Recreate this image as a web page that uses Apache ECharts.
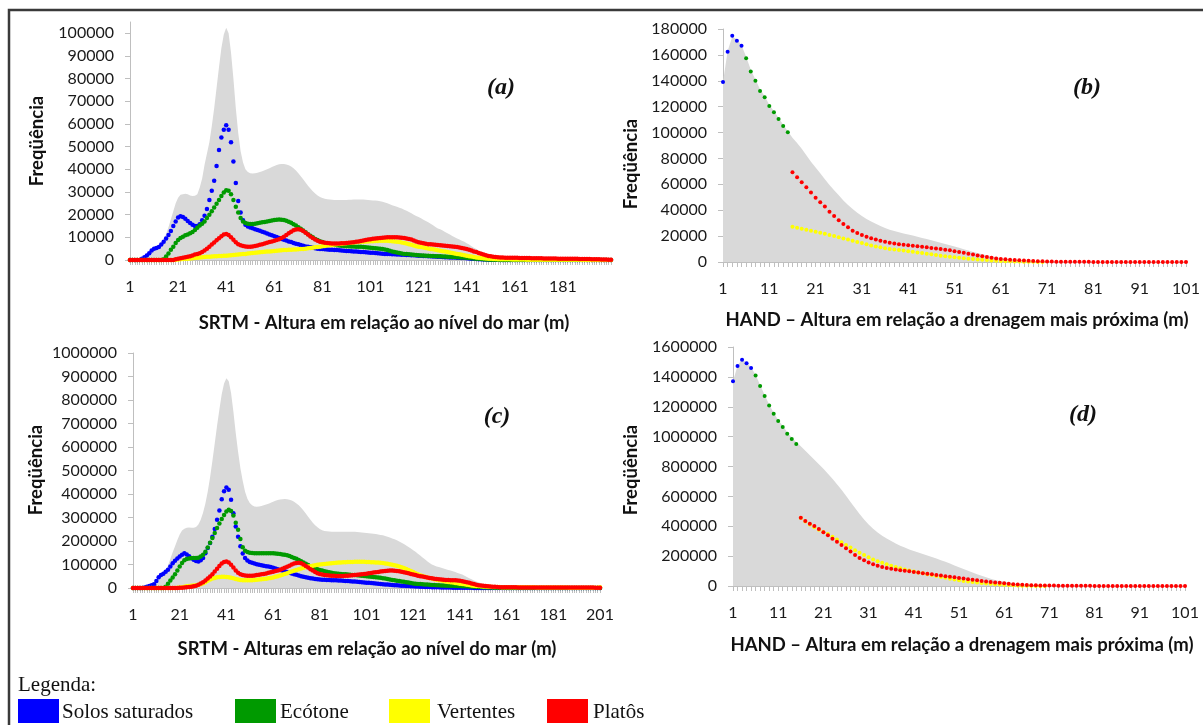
<!DOCTYPE html>
<html>
<head>
<meta charset="utf-8">
<title>Freqüência - SRTM e HAND</title>
<script src="https://cdn.jsdelivr.net/npm/echarts@6/dist/echarts.min.js"></script>
<style>
html, body { margin: 0; padding: 0; background: #fff; }
#chart { width: 1203px; height: 725px; }
</style>
</head>
<body>
<div id="chart"></div>
<script>
// categorias (alturas em m)
const catsSrtm = []
for (let i = 1; i <= 201; i++) catsSrtm.push(String(i))
const catsHand = []
for (let i = 1; i <= 101; i++) catsHand.push(String(i))

// (a) SRTM - frequencias
const srtmTotalA = [
  0, 0, 0, 0, 0, 500, 1200, 2000, 3000, 4200,
  5000, 5400, 6000, 7500, 9000, 11500, 14500, 18000, 21500, 25000,
  27500, 28800, 29000, 29200, 29000, 28500, 28200, 28300, 29000, 32000,
  36000, 42000, 47000, 52000, 59000, 67000, 76000, 85000, 93500, 99500,
  102500, 100000, 91500, 80000, 67000, 56000, 48000, 43000, 40000, 38800,
  38300, 38200, 38300, 38500, 38800, 39200, 39600, 40000, 40500, 41000,
  41500, 41900, 42200, 42300, 42300, 42100, 41800, 41300, 40500, 39500,
  38300, 37000, 35600, 34200, 32800, 31500, 30300, 29300, 28500, 27800,
  27300, 27000, 26800, 26700, 26600, 26500, 26500, 26500, 26500, 26500,
  26500, 26600, 26600, 26700, 26700, 26700, 26700, 26700, 26600, 26500,
  26400, 26300, 26200, 26100, 25900, 25700, 25400, 25000, 24600, 24200,
  23800, 23500, 23100, 22700, 22200, 21700, 21200, 20600, 20000, 19400,
  19000, 18400, 17800, 17200, 16600, 16000, 15300, 14600, 13900, 13600,
  13000, 12400, 11800, 11200, 10600, 10000, 9500, 9000, 8500, 8000,
  7400, 6800, 6100, 5400, 4800, 4200, 3700, 3200, 2800, 2400,
  2100, 1800, 1600, 1500, 1400, 1300, 1250, 1200, 1150, 1150,
  1200, 1150, 1100, 1100, 1050, 1000, 1000, 950, 950, 950,
  900, 900, 850, 850, 800, 750, 750, 750, 700, 700,
  700, 650, 650, 650, 600, 600, 550, 550, 500, 450,
  450, 450, 400, 400, 350, 350, 300, 300, 250, 200, 150
]
const srtmBlueA = [
  0, 0, 0, 0, 0, 500, 1200, 2000, 3000, 4200,
  5000, 5300, 5700, 6800, 8000, 9500, 11000, 12800, 15000, 17000,
  18700, 19300, 19000, 18200, 17200, 16300, 15500, 15000, 15000, 15800,
  17500, 19500, 22500, 26500, 30500, 35000, 41500, 48500, 54000, 57500,
  59500, 57500, 52000, 43500, 34000, 26000, 21000, 17500, 15500, 14800,
  14300, 14000, 13600, 13200, 12900, 12500, 12100, 11700, 11300, 10900,
  10500, 10100, 9700, 9300, 8900, 8600, 8200, 7900, 7500, 7200,
  6900, 6600, 6300, 6000, 5800, 5600, 5400, 5200, 5000, 4900,
  4800, 4700, 4600, 4550, 4500, 4450, 4400, 4300, 4200, 4100,
  4000, 3950, 3850, 3800, 3700, 3650, 3550, 3500, 3400, 3300,
  3200, 3150, 3050, 2950, 2900, 2800, 2700, 2650, 2600, 2550,
  2500, 2450, 2400, 2350, 2300, 2250, 2200, 2100, 2050, 2000,
  1900, 1850, 1800, 1750, 1700, 1600, 1550, 1500, 1450, 1400,
  1300, 1250, 1200, 1150, 1100, 1050, 1000, 950, 900, 850,
  800, 700, 600, 500, 400, 350, 300, 250, 200, 150,
  90, 80, 70, 60, 50, 40, 40, 30, 30, 20,
  20, 20, 10, 10, 10, 10, 0, 0, 0, 0,
  0, 0, 0, 0, 0, 0, 0, 0, 0, 0,
  0, 0, 0, 0, 0, 0, 0, 0, 0, 0,
  0, 0, 0, 0, 0, 0, 0, 0, 0, 0, 0
]
const srtmGreenA = [
  0, 0, 0, 0, 0, 0, 0, 0, 0, 0,
  0, 0, 0, 0, 300, 1500, 2900, 4500, 5900, 7500,
  8800, 9700, 10300, 10900, 11300, 11800, 12400, 13200, 14200, 15200,
  16000, 17000, 18500, 20000, 21500, 23200, 24800, 26500, 28200, 29800,
  30800, 30500, 29000, 26500, 23500, 21000, 18500, 17000, 16300, 16000,
  15900, 15900, 16000, 16200, 16400, 16600, 16800, 17000, 17200, 17400,
  17600, 17800, 17900, 17800, 17600, 17300, 16900, 16400, 15800, 15200,
  14500, 13800, 13000, 12200, 11400, 10700, 10000, 9300, 8800, 8300,
  7900, 7500, 7200, 6900, 6700, 6600, 6500, 6400, 6300, 6200,
  6100, 6050, 6000, 5950, 5900, 5850, 5800, 5700, 5600, 5500,
  5400, 5300, 5200, 5100, 5000, 4800, 4600, 4400, 4100, 3800,
  3500, 3300, 3100, 2900, 2700, 2600, 2500, 2400, 2300, 2200,
  2100, 2000, 1950, 1900, 1850, 1800, 1750, 1700, 1650, 1600,
  1550, 1500, 1450, 1400, 1350, 1300, 1250, 1200, 1150, 1100,
  1000, 900, 800, 700, 600, 500, 400, 300, 250, 200,
  150, 100, 80, 60, 50, 40, 30, 20, 10, 10,
  0, 0, 0, 0, 0, 0, 0, 0, 0, 0,
  0, 0, 0, 0, 0, 0, 0, 0, 0, 0,
  0, 0, 0, 0, 0, 0, 0, 0, 0, 0,
  0, 0, 0, 0, 0, 0, 0, 0, 0, 0, 0
]
const srtmYellowA = [
  0, 0, 0, 0, 0, 0, 0, 0, 0, 0,
  0, 0, 0, 0, 0, 0, 0, 0, 0, 100,
  200, 300, 400, 500, 600, 700, 800, 900, 1000, 1100,
  1200, 1300, 1400, 1450, 1500, 1600, 1700, 1750, 1800, 1850,
  1900, 2000, 2100, 2200, 2300, 2400, 2500, 2600, 2700, 2850,
  3000, 3100, 3200, 3300, 3400, 3500, 3600, 3700, 3800, 3900,
  4000, 4100, 4200, 4300, 4400, 4450, 4500, 4550, 4600, 4650,
  4700, 4800, 4900, 5000, 5150, 5300, 5450, 5600, 5750, 5900,
  6050, 6200, 6350, 6500, 6650, 6800, 6950, 7100, 7200, 7300,
  7400, 7500, 7600, 7700, 7800, 7900, 8000, 8100, 8150, 8200,
  8250, 8300, 8350, 8400, 8450, 8500, 8500, 8450, 8400, 8300,
  8200, 8100, 7900, 7700, 7500, 7300, 7000, 6700, 6400, 6100,
  5900, 5700, 5500, 5300, 5100, 4900, 4700, 4500, 4300, 4100,
  3900, 3700, 3500, 3300, 3100, 2900, 2700, 2500, 2300, 2100,
  1900, 1700, 1500, 1300, 1150, 1000, 900, 800, 700, 600,
  500, 450, 400, 380, 360, 340, 320, 300, 280, 240,
  220, 200, 200, 180, 180, 160, 160, 150, 150, 140,
  140, 130, 130, 120, 120, 110, 110, 100, 100, 100,
  90, 90, 80, 80, 70, 70, 60, 60, 50, 50,
  40, 40, 30, 30, 20, 20, 10, 10, 0, 0, 0
]
const srtmRedA = [
  0, 0, 0, 0, 0, 0, 0, 0, 0, 0,
  0, 0, 0, 0, 0, 0, 0, 0, 0, 300,
  500, 800, 1000, 1200, 1400, 1600, 2000, 2400, 2700, 3000,
  3500, 4200, 5000, 5900, 6800, 7700, 8700, 9600, 10500, 11200,
  11500, 11000, 10000, 8900, 7800, 7000, 6500, 6200, 6000, 5900,
  5900, 6000, 6200, 6400, 6700, 7000, 7300, 7600, 7900, 8200,
  8500, 8800, 9200, 9700, 10300, 11000, 11800, 12500, 13100, 13500,
  13600, 13400, 12800, 12000, 11200, 10400, 9700, 9000, 8500, 8100,
  7800, 7600, 7500, 7400, 7300, 7300, 7300, 7300, 7400, 7400,
  7500, 7600, 7700, 7800, 8000, 8200, 8400, 8600, 8800, 9000,
  9200, 9400, 9500, 9600, 9700, 9800, 9900, 10000, 10000, 10000,
  10000, 10000, 9900, 9800, 9700, 9500, 9300, 9000, 8600, 8200,
  7800, 7600, 7400, 7200, 7000, 6900, 6800, 6700, 6600, 6500,
  6400, 6300, 6200, 6100, 6000, 5900, 5700, 5500, 5300, 5100,
  4800, 4500, 4200, 3800, 3500, 3100, 2800, 2400, 2100, 1800,
  1600, 1400, 1300, 1200, 1100, 1100, 1000, 1000, 1000, 950,
  950, 950, 900, 900, 900, 850, 850, 800, 800, 800,
  750, 750, 700, 700, 700, 650, 650, 650, 600, 600,
  600, 550, 550, 550, 500, 500, 500, 450, 450, 400,
  400, 400, 350, 350, 300, 300, 250, 250, 200, 150, 100
]

// (c) SRTM - frequencias
const srtmTotalC = [
  0, 0, 0, 0, 0, 2000, 5000, 9000, 12000, 16000,
  30000, 46000, 55000, 62000, 75000, 96000, 125000, 152000, 178000, 204000,
  228000, 245000, 252000, 256000, 257000, 256000, 256000, 260000, 270000, 290000,
  320000, 360000, 410000, 470000, 540000, 615000, 690000, 760000, 825000, 870000,
  893000, 880000, 830000, 750000, 660000, 580000, 510000, 455000, 410000, 380000,
  362000, 352000, 347000, 346000, 347000, 349000, 352000, 355000, 359000, 363000,
  367000, 371000, 374000, 377000, 378000, 379000, 378000, 376000, 372000, 367000,
  360000, 352000, 342000, 330000, 317000, 303000, 290000, 278000, 267000, 258000,
  251000, 246000, 243000, 241000, 240000, 239000, 239000, 239000, 239000, 239000,
  239000, 239000, 239000, 239000, 239000, 239000, 238000, 237000, 236000, 235000,
  234000, 233000, 232000, 231000, 230000, 228000, 226000, 224000, 221000, 218000,
  215000, 211000, 207000, 203000, 198000, 193000, 187000, 181000, 175000, 168000,
  161000, 154000, 146000, 138000, 130000, 122000, 114000, 106000, 100000, 96000,
  92000, 89000, 86000, 83000, 80000, 77000, 74000, 71000, 68000, 64000,
  61000, 57000, 52000, 47000, 42000, 37000, 32000, 28000, 24000, 20000,
  17000, 15000, 13500, 12000, 11000, 10000, 9000, 8200, 7600, 7000,
  6600, 6400, 6200, 6100, 6000, 5900, 5800, 5700, 5600, 5500,
  5300, 5200, 5100, 5000, 4800, 4700, 4600, 4400, 4300, 4200,
  4100, 4000, 3900, 3800, 3700, 3600, 3500, 3400, 3400, 3200,
  3200, 3200, 3100, 3100, 3100, 3000, 3000, 3000, 2900, 3000, 4500
]
const srtmBlueC = [
  0, 0, 0, 0, 0, 2000, 5000, 9000, 12000, 16000,
  30000, 46000, 55000, 61000, 69000, 78000, 92000, 105000, 116000, 126000,
  134000, 142000, 148000, 143000, 135000, 127000, 120000, 115000, 113000, 118000,
  128000, 148000, 170000, 192000, 218000, 251000, 290000, 330000, 378000, 412000,
  428000, 418000, 376000, 318000, 262000, 218000, 178000, 147000, 128000, 117000,
  111000, 107000, 104000, 101000, 99000, 97000, 95000, 93000, 91000, 89000,
  86000, 83000, 80000, 77000, 74000, 71000, 68000, 65000, 62000, 59000,
  56000, 53000, 50000, 48000, 46000, 44000, 42000, 40000, 38000, 37000,
  36000, 35500, 35000, 34500, 34000, 33500, 33000, 32500, 32000, 31500,
  31000, 30300, 29600, 28900, 28000, 27200, 26400, 25500, 24600, 23700,
  22800, 21900, 21000, 20000, 19000, 18000, 17000, 16000, 15200, 14400,
  13600, 12900, 12200, 11500, 10800, 10000, 9400, 8800, 8200, 7600,
  7000, 6500, 6000, 5500, 5100, 4700, 4300, 3900, 3600, 3300,
  3000, 2700, 2400, 2200, 2000, 1800, 1600, 1400, 1300, 1200,
  1100, 1000, 900, 800, 700, 600, 500, 400, 400, 300,
  300, 250, 250, 200, 200, 150, 150, 100, 100, 100,
  0, 0, 0, 0, 0, 0, 0, 0, 0, 0,
  0, 0, 0, 0, 0, 0, 0, 0, 0, 0,
  0, 0, 0, 0, 0, 0, 0, 0, 0, 0,
  0, 0, 0, 0, 0, 0, 0, 0, 0, 0, 0
]
const srtmGreenC = [
  0, 0, 0, 0, 0, 0, 0, 0, 0, 0,
  0, 0, 0, 0, 5000, 18000, 32000, 45000, 58000, 75000,
  92000, 106000, 118000, 123000, 126000, 128000, 128000, 128000, 129000, 134000,
  142000, 154000, 172000, 193000, 213000, 234000, 255000, 275000, 294000, 311000,
  326000, 333000, 328000, 308000, 278000, 248000, 208000, 173000, 158000, 153000,
  150000, 149000, 148000, 148000, 148000, 148000, 148000, 148000, 148000, 148000,
  148000, 147000, 146000, 145000, 143000, 141000, 139000, 136000, 132000, 128000,
  124000, 119000, 114000, 108000, 103000, 98000, 93000, 88000, 84000, 80000,
  77000, 74000, 71000, 69000, 67000, 65000, 63000, 62000, 61000, 60000,
  59000, 58000, 57000, 56000, 55500, 55000, 54000, 53000, 52000, 51000,
  50000, 49000, 48000, 47000, 46000, 45000, 43500, 42000, 40000, 38000,
  36000, 34000, 32500, 31000, 29500, 28000, 26500, 25000, 23000, 21000,
  19500, 18500, 17500, 16800, 16000, 15300, 14600, 13900, 13200, 12600,
  12000, 11500, 11000, 10500, 10000, 9700, 9400, 9100, 8800, 8500,
  8200, 7800, 7400, 7000, 6500, 6000, 5500, 5000, 4500, 4000,
  3500, 3000, 2600, 2200, 1800, 1500, 1200, 1000, 800, 600,
  500, 400, 300, 300, 200, 200, 200, 100, 100, 100,
  0, 0, 0, 0, 0, 0, 0, 0, 0, 0,
  0, 0, 0, 0, 0, 0, 0, 0, 0, 0,
  0, 0, 0, 0, 0, 0, 0, 0, 0, 0, 0
]
const srtmYellowC = [
  0, 0, 0, 0, 0, 0, 0, 0, 0, 0,
  0, 0, 0, 0, 0, 0, 0, 0, 0, 1000,
  2000, 3500, 5000, 7000, 8500, 10000, 11000, 12000, 13500, 16000,
  20000, 25000, 31000, 36000, 40000, 43000, 45500, 47000, 47500, 47500,
  47000, 45500, 43500, 41000, 38500, 36000, 34500, 33500, 33000, 33000,
  33000, 33500, 34000, 35000, 36000, 37000, 38000, 39500, 41000, 43000,
  45000, 47500, 50000, 53000, 56000, 59500, 63000, 66500, 70000, 73500,
  77000, 80000, 83000, 86000, 89000, 91000, 93000, 95000, 97000, 99000,
  100000, 101500, 102500, 103500, 104500, 105500, 106500, 107500, 108500, 109000,
  109500, 110000, 110500, 111000, 111000, 111500, 111500, 111500, 111500, 111500,
  111000, 110500, 110000, 109500, 109000, 108000, 107000, 106000, 104500, 103000,
  101000, 99000, 97000, 94500, 91500, 88500, 85000, 81000, 77000, 72500,
  68000, 63000, 58500, 54500, 51000, 48000, 45000, 42500, 40000, 37500,
  35500, 33500, 31500, 29500, 27500, 26000, 24500, 23000, 21500, 20000,
  18500, 17000, 15500, 14000, 12500, 11000, 10000, 9000, 8000, 7000,
  6500, 6000, 5500, 5000, 4600, 4300, 4000, 3800, 3600, 3500,
  3400, 3300, 3200, 3100, 3000, 3000, 2900, 2900, 2800, 2800,
  2800, 2700, 2700, 2600, 2500, 2400, 2300, 2200, 2100, 2000,
  2000, 1900, 1800, 1800, 1700, 1600, 1600, 1500, 1500, 1400,
  1400, 1400, 1400, 1400, 1400, 1400, 1400, 1400, 1400, 1500, 3000
]
const srtmRedC = [
  0, 0, 0, 0, 0, 0, 0, 0, 0, 0,
  0, 0, 0, 0, 0, 0, 0, 0, 0, 500,
  1000, 1500, 2200, 3000, 4000, 5500, 7500, 10000, 14000, 19000,
  25000, 32000, 40000, 49000, 59000, 70000, 82000, 94000, 104000, 111000,
  113000, 108000, 99000, 87000, 74000, 65000, 59000, 55000, 53000, 52000,
  52000, 52500, 53500, 55000, 56500, 58000, 60000, 62000, 64500, 67000,
  69500, 72000, 75000, 78000, 82000, 86000, 90000, 95000, 100000, 104000,
  106000, 107000, 105000, 100000, 94000, 87000, 80000, 74000, 68000, 63000,
  60000, 57500, 55500, 54000, 53000, 52500, 52000, 51500, 51500, 51500,
  51500, 52000, 52500, 53000, 54000, 55000, 56000, 57000, 58000, 59500,
  61000, 62500, 64000, 65500, 67000, 68500, 70000, 71500, 72500, 73500,
  74000, 74000, 73500, 72500, 71000, 69000, 67000, 65000, 62500, 60000,
  57500, 55000, 52500, 50500, 48500, 46500, 44500, 42500, 41000, 39500,
  38000, 37000, 36000, 35000, 34500, 34000, 33500, 33000, 32500, 32000,
  31000, 29000, 27000, 24500, 22000, 19000, 16500, 14000, 12000, 10500,
  9500, 8500, 7500, 6500, 5700, 5000, 4300, 3700, 3200, 2800,
  2800, 2800, 2700, 2700, 2700, 2600, 2600, 2600, 2500, 2500,
  2500, 2400, 2400, 2400, 2300, 2300, 2300, 2200, 2200, 2200,
  2100, 2100, 2100, 2000, 2000, 2000, 1900, 1900, 1900, 1800,
  1800, 1800, 1700, 1700, 1700, 1600, 1600, 1600, 1500, 1500, 1500
]

// (b) HAND - frequencias
const handTotalB = [
  139000, 163000, 174000, 172000, 167500, 158500, 148500, 141000, 133500, 128000,
  121500, 116500, 111500, 106000, 101000, 96000, 92000, 87500, 82500, 77500,
  73000, 68500, 64000, 59500, 55500, 51500, 47500, 44000, 41000, 38000,
  35500, 33300, 31300, 29500, 27800, 26300, 25000, 23900, 23000, 22100,
  21300, 20400, 19500, 18600, 17700, 16800, 15900, 14900, 13900, 13000,
  12000, 11000, 9900, 8800, 7800, 6900, 6000, 5200, 4400, 3700,
  3100, 2600, 2100, 1700, 1400, 1100, 900, 700, 600, 500,
  400, 350, 300, 250, 200, 200, 150, 150, 100, 100,
  100, 50, 50, 50, 50, 0, 0, 0, 0, 0,
  0, 0, 0, 0, 0, 0, 0, 0, 0, 0,
  0
]
const handBlueB = [139000, 162500, 174700, 171000, 167000]
const handGreenB = [
  null, null, null, null, null,
  157400, 147100, 140100, 132100, 127300, 120600, 115700, 110500, 105100, 100200
]
const handYellowB = [
  null, null, null, null, null, null, null, null, null, null,
  null, null, null, null, null, 27300, 26500, 25700, 24900, 24100,
  23400, 22600, 21800, 20900, 20000, 19100, 18200, 17300, 16400, 15500,
  14600, 13700, 12800, 12000, 11300, 10700, 10100, 9600, 9200, 8800,
  8400, 7900, 7400, 6900, 6400, 5900, 5400, 4900, 4400, 4000,
  3600, 3200, 2900, 2600, 2300, 2000, 1700, 1500, 1200, 1000,
  800, 600, 500, 400, 300, 200, 150, 100, 80, 50
]
const handRedB = [
  null, null, null, null, null, null, null, null, null, null,
  null, null, null, null, null, 69300, 65400, 61600, 57700, 53600,
  49700, 46100, 42800, 38900, 35600, 32200, 29400, 26800, 24200, 22400,
  20800, 19500, 18300, 17300, 16400, 15600, 14900, 14300, 13800, 13300,
  12900, 12500, 12100, 11700, 11300, 10900, 10500, 10000, 9500, 9000,
  8400, 7800, 7100, 6400, 5700, 5000, 4400, 3800, 3300, 2800,
  2400, 2100, 1800, 1500, 1300, 1100, 900, 700, 600, 500,
  400, 300, 250, 200, 200, 150, 150, 100, 100, 100,
  50, 50, 50, 50, 0, 0, 0, 0, 0, 0,
  0, 0, 0, 0, 0, 0, 0, 0, 0, 0,
  0
]

// (d) HAND - frequencias
const handTotalD = [
  1370000, 1475000, 1518000, 1497000, 1462000, 1415000, 1345000, 1278000, 1215000, 1160000,
  1112000, 1072000, 1030000, 994000, 962000, 935000, 905000, 875000, 845000, 815000,
  785000, 752000, 718000, 682000, 644000, 604000, 563000, 522000, 482000, 445000,
  412000, 383000, 358000, 337000, 318000, 301000, 285000, 270000, 257000, 245000,
  234000, 224000, 214000, 204000, 194000, 184000, 173000, 162000, 150000, 138000,
  126000, 114000, 102000, 90000, 79000, 68000, 58000, 49000, 41000, 34000,
  28000, 23000, 19000, 15500, 12500, 10000, 8000, 6500, 5500, 4500,
  4000, 3600, 3200, 2800, 2500, 2200, 2000, 1800, 1600, 1400,
  1200, 1000, 900, 800, 700, 600, 500, 400, 300, 200,
  100, 100, 100, 0, 0, 0, 0, 0, 0, 0,
  0
]
const handBlueD = [1370000, 1472000, 1515000, 1492000, 1459000]
const handGreenD = [
  null, null, null, null, null,
  1410000, 1339000, 1272000, 1209000, 1153000, 1104000, 1064000, 1020000, 984000, 950000
]
const handYellowD = [
  null, null, null, null, null, null, null, null, null, null,
  null, null, null, null, null, 455000, 432000, 412000, 393000, 376000,
  361000, 348000, 329000, 311000, 293000, 275000, 257000, 240000, 223000, 207000,
  192000, 178000, 166000, 155000, 145000, 136000, 127000, 119000, 111000, 104000,
  97000, 91000, 85000, 79000, 73000, 67000, 61000, 55000, 49000, 44000,
  39000, 34000, 30000, 26500, 23000, 20000, 17000, 14500, 12000, 10000,
  8000, 6500, 5000, 3500, 2500, 1800, 1200, 800, 500, 300
]
const handRedD = [
  null, null, null, null, null, null, null, null, null, null,
  null, null, null, null, null, 457000, 435000, 417000, 402000, 381000,
  360000, 339000, 317000, 297000, 274000, 252000, 231000, 208000, 188000, 172000,
  158000, 146000, 136000, 128000, 121000, 115000, 110000, 106000, 102000, 98000,
  94000, 90000, 86000, 82000, 78000, 74000, 70000, 66000, 62000, 58000,
  54000, 50000, 46000, 42000, 38000, 34000, 30000, 27000, 24000, 21000,
  18000, 15000, 12500, 10000, 8000, 6500, 5500, 4500, 4000, 3500,
  3000, 2700, 2400, 2100, 1800, 1600, 1400, 1200, 1000, 900,
  800, 700, 600, 500, 400, 300, 200, 100, 100, 0,
  0, 0, 0, 0, 0, 0, 0, 0, 0, 0,
  0
]

const classNames = ['Solos saturados', 'Ecótone', 'Vertentes', 'Platôs']
const classColors = ['#0000ff', '#009a00', '#ffff00', '#ff0000']

const labelFont = { fontFamily: 'Lato', fontSize: 16, color: '#1a1a1a' }

function xAx (gi, cats, step, hideLast) {
  return {
    type: 'category',
    gridIndex: gi,
    data: cats,
    boundaryGap: false,
    axisLine: { lineStyle: { color: '#bfbfbf', width: 1 } },
    axisTick: { show: true, interval: 0, length: 5, lineStyle: { color: '#bfbfbf' } },
    axisLabel: Object.assign({
      margin: 19,
      interval: function (i) {
        return i % step === 0 && !(hideLast && i === cats.length - 1)
      }
    }, labelFont),
    splitLine: { show: false }
  }
}

function yAx (gi, max, interval) {
  return {
    type: 'value',
    gridIndex: gi,
    min: 0,
    max: max,
    interval: interval,
    axisLine: { show: true, lineStyle: { color: '#bfbfbf', width: 1 } },
    axisTick: { show: true, length: 5, lineStyle: { color: '#bfbfbf' } },
    axisLabel: Object.assign({
      margin: 16,
      showMaxLabel: max % interval === 0,
      formatter: function (v) { return String(v) }
    }, labelFont),
    splitLine: { show: false }
  }
}

// area cinza (total)
function area (data, gi) {
  return {
    type: 'line', xAxisIndex: gi, yAxisIndex: gi, data: data,
    symbol: 'none', showSymbol: false,
    lineStyle: { opacity: 0 },
    areaStyle: { color: '#d9d9d9', opacity: 1 },
    silent: true
  }
}

// pontos de cada classe
function dots (k, data, gi, size) {
  return {
    name: classNames[k], type: 'line', xAxisIndex: gi, yAxisIndex: gi, data: data,
    symbol: 'circle', symbolSize: size, showAllSymbol: true,
    lineStyle: { opacity: 0 },
    itemStyle: { color: classColors[k] },
    clip: false,
    silent: true
  }
}

function txt (x, y, text, font, rot, align) {
  return {
    type: 'text', x: x, y: y, rotation: rot || 0,
    style: {
      text: text, font: font, fill: '#111',
      align: align || 'center', verticalAlign: 'middle',
      textAlign: align || 'center', textVerticalAlign: 'middle'
    }
  }
}

const titleFont = 'bold 18.5px Lato'
const panelFont = 'italic bold 24px "Liberation Serif"'
const legendFont = '21px "Liberation Serif"'

const graphics = [
  { type: 'rect', shape: { x: 9, y: 10, width: 1220, height: 740 },
    style: { fill: 'none', stroke: '#3a3a3a', lineWidth: 2.5 }, silent: true },
  txt(384, 323, 'SRTM - Altura em relação ao nível do mar (m)', titleFont),
  txt(957, 320, 'HAND – Altura em relação a drenagem mais próxima (m)', titleFont),
  txt(367, 649, 'SRTM - Alturas em relação ao nível do mar (m)', titleFont),
  txt(962, 645, 'HAND – Altura em relação a drenagem mais próxima (m)', titleFont),
  txt(37, 141, 'Freqüência', titleFont, Math.PI / 2),
  txt(631, 164, 'Freqüência', titleFont, Math.PI / 2),
  txt(36, 470, 'Freqüência', titleFont, Math.PI / 2),
  txt(631, 470, 'Freqüência', titleFont, Math.PI / 2),
  txt(501, 88, '(a)', panelFont),
  txt(1087, 88, '(b)', panelFont),
  txt(497, 417, '(c)', panelFont),
  txt(1083, 415, '(d)', panelFont),
  txt(18, 685, 'Legenda:', legendFont, 0, 'left')
]
const legendBoxX = [18, 235, 389, 547]
const legendTextX = [62, 280, 437, 593]
for (let k = 0; k < 4; k++) {
  graphics.push({ type: 'rect', shape: { x: legendBoxX[k], y: 699, width: 41, height: 24 },
    style: { fill: classColors[k] }, silent: true })
  graphics.push(txt(legendTextX[k], 712, classNames[k], legendFont, 0, 'left'))
}

const myChart = echarts.init(document.getElementById('chart'))
const option = {
  animation: false,
  backgroundColor: '#fff',
  grid: [
    { left: 130, top: 22, width: 481, height: 238, outerBoundsMode: 'none' },
    { left: 723, top: 29, width: 463, height: 233, outerBoundsMode: 'none' },
    { left: 133, top: 353, width: 467, height: 235, outerBoundsMode: 'none' },
    { left: 733, top: 347, width: 452, height: 239, outerBoundsMode: 'none' }
  ],
  xAxis: [
    xAx(0, catsSrtm, 20, true),
    xAx(1, catsHand, 10, false),
    xAx(2, catsSrtm, 20, false),
    xAx(3, catsHand, 10, false)
  ],
  yAxis: [
    yAx(0, 105000, 10000),
    yAx(1, 180000, 20000),
    yAx(2, 1000000, 100000),
    yAx(3, 1600000, 200000)
  ],
  series: [
    area(srtmTotalA, 0),
    dots(0, srtmBlueA, 0, 4.5), dots(1, srtmGreenA, 0, 4.5), dots(2, srtmYellowA, 0, 4.5), dots(3, srtmRedA, 0, 4.5),
    area(handTotalB, 1),
    dots(0, handBlueB, 1, 4), dots(1, handGreenB, 1, 4), dots(2, handYellowB, 1, 4), dots(3, handRedB, 1, 4),
    area(srtmTotalC, 2),
    dots(0, srtmBlueC, 2, 4.5), dots(1, srtmGreenC, 2, 4.5), dots(2, srtmYellowC, 2, 4.5), dots(3, srtmRedC, 2, 4.5),
    area(handTotalD, 3),
    dots(0, handBlueD, 3, 4), dots(1, handGreenD, 3, 4), dots(2, handYellowD, 3, 4), dots(3, handRedD, 3, 4)
  ],
  graphic: graphics
}
myChart.setOption(option)
window.addEventListener('resize', function () {
  myChart.resize()
})
</script>
</body>
</html>
